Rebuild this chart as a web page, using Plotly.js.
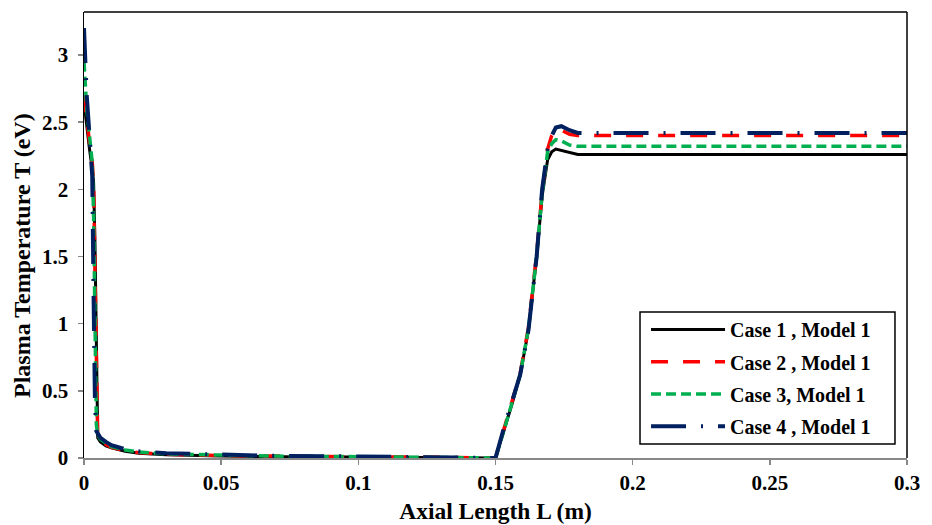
<!DOCTYPE html>
<html>
<head>
<meta charset="utf-8">
<script src="https://cdn.plot.ly/plotly-3.0.1.min.js"></script>
<style>html,body{margin:0;padding:0;background:#fff;}#chart{width:932px;height:525px;}</style>
</head>
<body>
<div id="chart"></div>
<script>
// Axial length (m)
const axialLength = [0, 0.001, 0.002, 0.003, 0.0035, 0.004, 0.0045, 0.005, 0.006, 0.008, 0.01, 0.015, 0.02, 0.03, 0.05, 0.07, 0.1, 0.13, 0.15,
  0.153, 0.156, 0.159, 0.162, 0.165, 0.167, 0.169, 0.1705, 0.172, 0.174, 0.177, 0.18, 0.2, 0.25, 0.3];

// Plasma temperature (eV)
const case1 = [2.65, 2.45, 2.3, 2.15, 2.05, 1.6, 0.8, 0.15, 0.12, 0.09, 0.075, 0.05, 0.035, 0.025, 0.015, 0.01, 0.008, 0.005, 0.0,
  0.2, 0.4, 0.62, 0.95, 1.5, 1.95, 2.22, 2.28, 2.3, 2.29, 2.27, 2.26, 2.26, 2.26, 2.26];
const case2 = [2.7, 2.5, 2.35, 2.2, 2.05, 1.4, 0.5, 0.16, 0.13, 0.1, 0.08, 0.055, 0.04, 0.028, 0.018, 0.012, 0.009, 0.006, 0.0,
  0.21, 0.42, 0.63, 0.97, 1.52, 1.98, 2.3, 2.4, 2.45, 2.44, 2.41, 2.4, 2.4, 2.4, 2.4];
const case3 = [2.95, 2.6, 2.4, 2.2, 1.8, 0.9, 0.25, 0.17, 0.14, 0.11, 0.085, 0.06, 0.045, 0.03, 0.02, 0.014, 0.01, 0.007, 0.0,
  0.2, 0.41, 0.62, 0.96, 1.5, 1.97, 2.28, 2.34, 2.37, 2.36, 2.33, 2.32, 2.32, 2.32, 2.32];
const case4 = [3.2, 2.7, 2.4, 2.1, 1.2, 0.4, 0.2, 0.18, 0.15, 0.12, 0.095, 0.065, 0.05, 0.035, 0.022, 0.016, 0.012, 0.009, 0.0,
  0.22, 0.43, 0.62, 0.95, 1.5, 2.0, 2.3, 2.4, 2.46, 2.47, 2.44, 2.42, 2.42, 2.42, 2.42];

const seriesNames = ['Case 1 , Model 1', 'Case 2 , Model 1', 'Case 3, Model 1', 'Case 4 , Model 1'];
const xTicks = [0, 0.05, 0.1, 0.15, 0.2, 0.25, 0.3];
const xTickText = ['0', '0.05', '0.1', '0.15', '0.2', '0.25', '0.3'];
const yTicks = [0, 0.5, 1, 1.5, 2, 2.5, 3];
const yTickText = ['0', '0.5', '1', '1.5', '2', '2.5', '3'];
const xTitle = 'Axial Length L (m)';
const yTitle = 'Plasma Temperature T (eV)';

const styles = [
  {color: '#000000', width: 3, dash: 'solid'},
  {color: '#ff0000', width: 3.5, dash: '17px,15px'},
  {color: '#00b050', width: 3.5, dash: '10px,5px'},
  {color: '#002060', width: 4, dash: '35px,15px,2px,15px'}
];
const ys = [case1, case2, case3, case4];

const traces = ys.map((y, i) => ({
  x: axialLength, y: y, type: 'scatter', mode: 'lines', name: seriesNames[i],
  legendgroup: 'g' + i,
  line: {color: styles[i].color, width: styles[i].width, dash: styles[i].dash}
}));

const fam = '"Liberation Serif", "Times New Roman", serif';

const layout = {
  width: 932, height: 525,
  margin: {l: 84, r: 25, t: 12, b: 67},
  paper_bgcolor: '#fff', plot_bgcolor: '#fff',
  font: {family: fam, color: '#000'},
  showlegend: true,
  legend: {
    x: 0.6829, y: 0.332, xanchor: 'left', yanchor: 'top',
    borderwidth: 0, bgcolor: 'rgba(0,0,0,0)',
    font: {family: fam, size: 20, color: '#000', weight: 'bold'},
    tracegroupgap: 3.3, itemwidth: 74
  },
  xaxis: {
    range: [0, 0.3], tickvals: xTicks, ticktext: xTickText,
    showgrid: false, zeroline: false,
    showline: true, linecolor: '#888', linewidth: 2,
    ticks: 'outside', ticklen: 5, tickcolor: '#888', tickwidth: 1.5,
    ticklabelstandoff: 0,
    tickfont: {family: fam, size: 21, weight: 'bold', color: '#000'},
    title: {text: xTitle, font: {family: fam, size: 23.5, weight: 'bold', color: '#000'}, standoff: 8}
  },
  yaxis: {
    range: [0, 3.32], tickvals: yTicks, ticktext: yTickText,
    showgrid: false, zeroline: false,
    showline: true, linecolor: '#000', linewidth: 1.5,
    ticks: 'outside', ticklen: 5, tickcolor: '#888', tickwidth: 1.5,
    ticklabelstandoff: 5,
    tickfont: {family: fam, size: 21, weight: 'bold', color: '#000'}
  },
  annotations: [
    {text: yTitle, xref: 'paper', yref: 'paper', x: 0, y: 0.453, xshift: -62,
     xanchor: 'center', yanchor: 'middle', textangle: -90, showarrow: false,
     font: {family: fam, size: 24, weight: 'bold', color: '#000'}}
  ],
  shapes: [
    {type: 'line', xref: 'paper', yref: 'paper', x0: 0, x1: 1, y0: 1, y1: 1, line: {color: '#000', width: 1.5}},
    {type: 'line', xref: 'paper', yref: 'paper', x0: 1, x1: 1, y0: 0, y1: 1, line: {color: '#000', width: 1.5}},
    {type: 'rect', xref: 'paper', yref: 'paper', x0: 0.6756, x1: 0.9854, y0: 0.0314, y1: 0.3274,
     line: {color: '#000', width: 1.5}, fillcolor: '#fff', layer: 'above'}
  ]
};

Plotly.newPlot('chart', traces, layout, {displayModeBar: false, staticPlot: true});
</script>
</body>
</html>
